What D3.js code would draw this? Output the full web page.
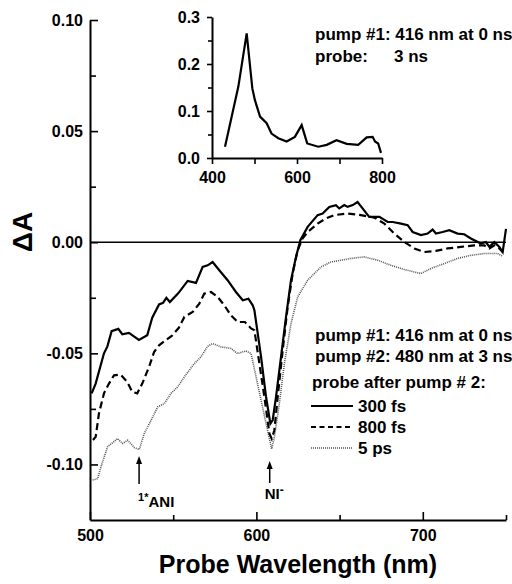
<!DOCTYPE html>
<html>
<head>
<meta charset="utf-8">
<script src="https://cdn.jsdelivr.net/npm/d3@7"></script>
<style>
  body { margin: 0; background: #fff; }
  text { font-family: "Liberation Sans", Arial, Helvetica, sans-serif; font-weight: bold; fill: #000; }
</style>
</head>
<body>
<div id="chart"></div>
<script>
// DATA

// probe after pump #2: 300 fs  [wavelength nm, dA]
var fs300 = [
  [501,-0.068],[503.4,-0.0636],[508.4,-0.050],[510.4,-0.047],[513,-0.040],[517,-0.039],
  [519.4,-0.0414],[523.4,-0.0408],[529.4,-0.044],[534.4,-0.0419],[537.4,-0.034],[541.5,-0.028],
  [543.9,-0.0273],[545.9,-0.025],[548,-0.0269],[553,-0.023],[558.7,-0.0174],[563.7,-0.0183],
  [567.7,-0.0111],[570.7,-0.0104],[573.7,-0.0089],[577.7,-0.0126],[582.7,-0.0171],[587.7,-0.0224],
  [591.8,-0.0261],[595.2,-0.0254],[597.8,-0.0284],[598.8,-0.0306],[600.8,-0.041],[602.8,-0.0516],
  [605.8,-0.0696],[608.4,-0.0816],[609.8,-0.080],[611.8,-0.0696],[614.8,-0.0516],[617.8,-0.0336],
  [620.8,-0.0171],[623.8,-0.0066],[626.4,0.0009],[630.8,0.0069],[636.8,0.0122],[639.8,0.0129],
  [643.8,0.0159],[647.8,0.0167],[649.8,0.0152],[652.8,0.0167],[654.8,0.0159],[657.9,0.0167],
  [660.8,0.0181],[663.8,0.0152],[667.8,0.0114],[673.9,0.0114],[678.9,0.0091],[681.9,0.0091],
  [686.9,0.0084],[690.9,0.0077],[693.9,0.0046],[698.9,0.0032],[702.9,0.0039],[705.9,0.0057],
  [707.9,0.0039],[711.9,0.0046],[715.9,0.0054],[720.9,0.0039],[724.9,0.0036],[728.9,0.0017],
  [734.9,-0.0006],[737.9,0.0001],[740,-0.0021],[743,0.0001],[746,-0.0021],[748,-0.0044],[750,0.006]
];

// 800 fs
var fs800 = [
  [501.8,-0.089],[503.4,-0.0876],[505.4,-0.077],[508.4,-0.068],[511.4,-0.0636],[514.4,-0.0599],
  [518.4,-0.0596],[522.4,-0.0629],[525.4,-0.0674],[528.4,-0.068],[531.4,-0.0636],[535.5,-0.0561],
  [538.5,-0.0494],[541.5,-0.0464],[545.5,-0.0441],[549.5,-0.0419],[553.5,-0.0384],[556.7,-0.0336],
  [561.7,-0.0314],[565.7,-0.0276],[568.7,-0.0231],[572.7,-0.0224],[576.7,-0.0246],[580.7,-0.0284],
  [584.7,-0.0329],[588.7,-0.0359],[593.1,-0.0359],[596.8,-0.0388],[598.8,-0.0396],[601.8,-0.0546],
  [604.8,-0.0696],[607.8,-0.0861],[609.2,-0.0884],[610.8,-0.0846],[612.8,-0.0696],[615.8,-0.0486],
  [618.8,-0.0291],[621.8,-0.0141],[624.8,-0.0036],[627.8,0.0017],[630.8,0.0046],[636.8,0.0084],
  [641.8,0.0107],[646.8,0.0122],[654.8,0.0129],[662.8,0.0122],[670.8,0.0111],[676.9,0.0084],
  [682.9,0.0039],[688.9,0.0001],[694.9,-0.0028],[700.9,-0.0044],[707.9,-0.0039],[714.9,-0.0028],
  [722.9,-0.0021],[730.9,-0.0014],[736.9,-0.0014],[740,-0.0028],[743,-0.0014],[746,-0.0028],[748,-0.0044]
];

// 5 ps
var ps5 = [
  [501.6,-0.107],[504.6,-0.1064],[506.6,-0.101],[510.6,-0.092],[516.6,-0.0884],[519.6,-0.0906],
  [522.6,-0.0891],[526.6,-0.0924],[529.6,-0.0933],[532.6,-0.0861],[536.7,-0.0801],[540.7,-0.0741],
  [544.7,-0.0726],[548.7,-0.068],[552.7,-0.0651],[556.7,-0.0606],[562.7,-0.0546],[566.7,-0.0516],
  [570.7,-0.0468],[573.7,-0.0456],[578.7,-0.0471],[584.7,-0.0478],[588.7,-0.0501],[593.7,-0.0489],
  [596.8,-0.0501],[599.8,-0.0606],[602.8,-0.0711],[605.8,-0.0816],[607.8,-0.0884],[609.2,-0.093],
  [610.8,-0.0876],[613.8,-0.0726],[616.8,-0.0546],[620.8,-0.0366],[624.8,-0.0246],[630.8,-0.0171],
  [638.8,-0.0111],[644.8,-0.0089],[656.8,-0.0073],[664.8,-0.0066],[672.9,-0.0081],[680.9,-0.0104],
  [688.9,-0.0123],[698.9,-0.0141],[704.9,-0.0118],[712.9,-0.0096],[720.9,-0.0073],[728.9,-0.0059],
  [736.9,-0.0051],[744.9,-0.0051],[748,-0.0063]
];

// inset: probe 3 ns after pump #1
var inset3ns = [
  [430.6,0.024],[462,0.152],[481.6,0.265],[494.9,0.148],[501,0.123],[513,0.088],[528.6,0.074],
  [540,0.052],[556,0.042],[575.7,0.035],[595,0.045],[611,0.070],[624,0.031],[650,0.024],
  [670,0.028],[693,0.038],[717,0.030],[744,0.028],[764,0.044],[778,0.045],[783.5,0.035],
  [791,0.031],[797.6,0.011]
];

var xMajor = [500, 600, 700];
var xMinor = [550, 650, 750];
var yMajor = [-0.10, -0.05, 0.00, 0.05, 0.10];
var yMinor = [-0.075, -0.025, 0.025, 0.075];
var insetXMajor = [400, 600, 800];
var insetXMinor = [500, 700];
var insetYMajor = [0.0, 0.1, 0.2, 0.3];
var insetYMinor = [0.05, 0.15, 0.25];

var legendLabels = ['300 fs', '800 fs', '5 ps'];
var annWave = [529.5, 608];

// GRAPHICS

var svg = d3.select('#chart').append('svg').attr('width', 512).attr('height', 584);

var x = d3.scaleLinear().domain([500, 750]).range([90, 506]);
var y = d3.scaleLinear().domain([-0.125, 0.10]).range([520, 20]);

function styleAxis(g, size) {
  g.select('.domain').attr('stroke-width', 2);
  g.selectAll('.tick line').attr('stroke-width', 1.6);
  g.selectAll('text').style('font-size', size + 'px')
    .style('font-family', '"Liberation Sans", Arial, sans-serif').style('font-weight', 'bold');
}

// main axes (ticks inward)
var gy = svg.append('g').attr('transform', 'translate(90,0)')
  .call(d3.axisLeft(y).tickValues(yMajor).tickSize(-8).tickSizeOuter(0).tickPadding(7)
    .tickFormat(function(d) { return d.toFixed(2); }));
styleAxis(gy, 16);
svg.append('g').attr('transform', 'translate(90,0)')
  .call(d3.axisLeft(y).tickValues(yMinor).tickSize(-6).tickSizeOuter(0).tickFormat(''))
  .call(function(g) { g.select('.domain').remove(); g.selectAll('line').attr('stroke-width', 1.6); });

var gx = svg.append('g').attr('transform', 'translate(0,520)')
  .call(d3.axisBottom(x).tickValues(xMajor).tickSize(-8).tickSizeOuter(0).tickPadding(10)
    .tickFormat(d3.format('d')));
styleAxis(gx, 16);
svg.append('g').attr('transform', 'translate(0,520)')
  .call(d3.axisBottom(x).tickValues(xMinor).tickSize(-5).tickSizeOuter(0).tickFormat(''))
  .call(function(g) { g.select('.domain').remove(); g.selectAll('line').attr('stroke-width', 1.6); });

// zero line
svg.append('line')
  .attr('x1', x(500)).attr('x2', x(750)).attr('y1', y(0)).attr('y2', y(0))
  .attr('stroke', '#000').attr('stroke-width', 1.6);

var line = d3.line().x(function(d) { return x(d[0]); }).y(function(d) { return y(d[1]); });

svg.append('path').datum(ps5).attr('d', line)
  .attr('fill', 'none').attr('stroke', '#555').attr('stroke-width', 1.6).attr('stroke-dasharray', '1,1');
svg.append('path').datum(fs800).attr('d', line)
  .attr('fill', 'none').attr('stroke', '#000').attr('stroke-width', 2.2).attr('stroke-dasharray', '7,4');
svg.append('path').datum(fs300).attr('d', line)
  .attr('fill', 'none').attr('stroke', '#000').attr('stroke-width', 2.2);

// axis titles
svg.append('text').attr('x', 298).attr('y', 573).attr('text-anchor', 'middle')
  .style('font-size', '25px').text('Probe Wavelength (nm)');
svg.append('text').attr('transform', 'translate(32,232) rotate(-90)').attr('text-anchor', 'middle')
  .style('font-size', '28px').text('\u0394A');

// annotations
function arrow(xp, yTip, yEnd) {
  svg.append('line').attr('x1', xp).attr('x2', xp).attr('y1', yTip + 5).attr('y2', yEnd)
    .attr('stroke', '#000').attr('stroke-width', 1.5);
  svg.append('path').attr('d', 'M' + xp + ',' + yTip + 'l-3,8h6z').attr('fill', '#000');
}
arrow(x(annWave[0]), 456, 484);
arrow(x(annWave[1]), 461, 483);

var ani = svg.append('text').attr('x', x(annWave[0]) - 1).attr('y', 507).style('font-size', '15px');
ani.append('tspan').attr('dy', -6).style('font-size', '11px').text('1*');
ani.append('tspan').attr('dy', 6).text('ANI');

var ni = svg.append('text').attr('x', x(annWave[1]) - 5).attr('y', 499).style('font-size', '15px');
ni.append('tspan').text('NI');
ni.append('tspan').attr('dy', -5).style('font-size', '12px').text('-');

// legend
function drawText(txt, xp, yp, size) {
  svg.append('text').attr('x', xp).attr('y', yp).style('font-size', size + 'px').text(txt);
}
drawText('pump #1: 416 nm at 0 ns', 315, 341, 17);
drawText('pump #2: 480 nm at 3 ns', 315, 362, 17);
drawText('probe after pump # 2:', 312, 388, 17);

var legendStyles = [
  { stroke: '#000', width: 2.2, dash: null },
  { stroke: '#000', width: 2.2, dash: '5,3.5' },
  { stroke: '#555', width: 1.6, dash: '1,1' }
];
legendLabels.forEach(function(lbl, i) {
  var yy = 406 + i * 21;
  var s = legendStyles[i];
  svg.append('line').attr('x1', 311).attr('x2', 353).attr('y1', yy).attr('y2', yy)
    .attr('stroke', s.stroke).attr('stroke-width', s.width).attr('stroke-dasharray', s.dash);
  drawText(lbl, 358, yy + 6, 17);
});

// INSET
var ix = d3.scaleLinear().domain([400, 800]).range([212, 382]);
var iy = d3.scaleLinear().domain([0, 0.3]).range([158, 17]);

var igy = svg.append('g').attr('transform', 'translate(212,0)')
  .call(d3.axisLeft(iy).tickValues(insetYMajor).tickSize(5).tickSizeOuter(0).tickPadding(7)
    .tickFormat(function(d) { return d.toFixed(1); }));
styleAxis(igy, 16);
svg.append('g').attr('transform', 'translate(212,0)')
  .call(d3.axisLeft(iy).tickValues(insetYMinor).tickSize(4).tickSizeOuter(0).tickFormat(''))
  .call(function(g) { g.select('.domain').remove(); g.selectAll('line').attr('stroke-width', 1.6); });

var igx = svg.append('g').attr('transform', 'translate(0,158)')
  .call(d3.axisBottom(ix).tickValues(insetXMajor).tickSize(6).tickSizeOuter(0).tickPadding(8)
    .tickFormat(d3.format('d')));
styleAxis(igx, 16);
svg.append('g').attr('transform', 'translate(0,158)')
  .call(d3.axisBottom(ix).tickValues(insetXMinor).tickSize(6).tickSizeOuter(0).tickFormat(''))
  .call(function(g) { g.select('.domain').remove(); g.selectAll('line').attr('stroke-width', 1.6); });

var iline = d3.line().x(function(d) { return ix(d[0]); }).y(function(d) { return iy(d[1]); });
svg.append('path').datum(inset3ns).attr('d', iline)
  .attr('fill', 'none').attr('stroke', '#000').attr('stroke-width', 2.2);

drawText('pump #1: 416 nm at 0 ns', 315, 40, 17);
drawText('probe:', 315, 62, 17);
drawText('3 ns', 394, 62, 17);
</script>
</body>
</html>
